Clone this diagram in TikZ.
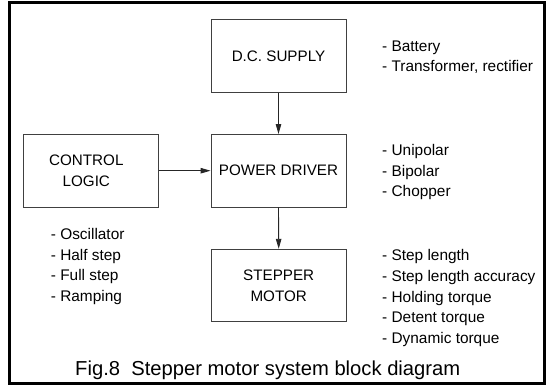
\documentclass[tikz,border=0pt]{standalone}
\usepackage{fontspec}
\setmainfont{Liberation Sans}
\usetikzlibrary{arrows.meta}
\begin{document}
\begin{tikzpicture}[x=1pt,y=-1pt,
  blk/.style={draw=black!75, line width=0.9pt, minimum width=135pt, minimum height=72.5pt,
    inner sep=0pt, align=center, font=\fontsize{15.2}{21}\selectfont},
  itm/.style={anchor=base west, inner sep=0pt, font=\fontsize{15.4}{18}\selectfont},
  conn/.style={draw=black!85, line width=0.9pt, -{Triangle[length=10pt,width=5.5pt]}},
  frame/.style={draw=black, line width=2.6pt}]
\useasboundingbox (0,0) rectangle (547,386);
\draw[frame] (9.5,2.2) rectangle (544.5,383.5);

% blocks
\node[blk] (dc) at (278.5,56) {D.C. SUPPLY};
\node[blk] (pd) at (278.5,170.7) {POWER DRIVER};
\node[blk] (cl) at (90.8,170.7) {CONTROL\hspace*{9pt}\\LOGIC\hspace*{9pt}};
\node[blk] (sm) at (278.7,285.5) {STEPPER\\MOTOR};

% connectors
\draw[conn] (dc.south) -- (pd.north);
\draw[conn] (cl.east) -- (pd.west);
\draw[conn] (pd.south) -- (sm.north);

% lists
\node[itm] (s1) at (382,51) {- Battery};
\node[itm] (s2) at (382,71.7) {- Transformer, rectifier};

\node[itm] (d1) at (382,155) {- Unipolar};
\node[itm] (d2) at (382,176) {- Bipolar};
\node[itm] (d3) at (382,196.7) {- Chopper};

\node[itm] (m1) at (382,260.7) {- Step length};
\node[itm] (m2) at (382,281.4) {- Step length accuracy};
\node[itm] (m3) at (382,302) {- Holding torque};
\node[itm] (m4) at (382,322.7) {- Detent torque};
\node[itm] (m5) at (382,343.4) {- Dynamic torque};

\node[itm] (c1) at (50.7,239.5) {- Oscillator};
\node[itm] (c2) at (50.7,260) {- Half step};
\node[itm] (c3) at (50.7,280.5) {- Full step};
\node[itm] (c4) at (50.7,301) {- Ramping};

% caption
\node[anchor=base west, inner sep=0pt, font=\fontsize{20.2}{24}\selectfont] (cap) at (75,375)
  {Fig.8\ \ Stepper motor system block diagram};
\end{tikzpicture}
\end{document}
